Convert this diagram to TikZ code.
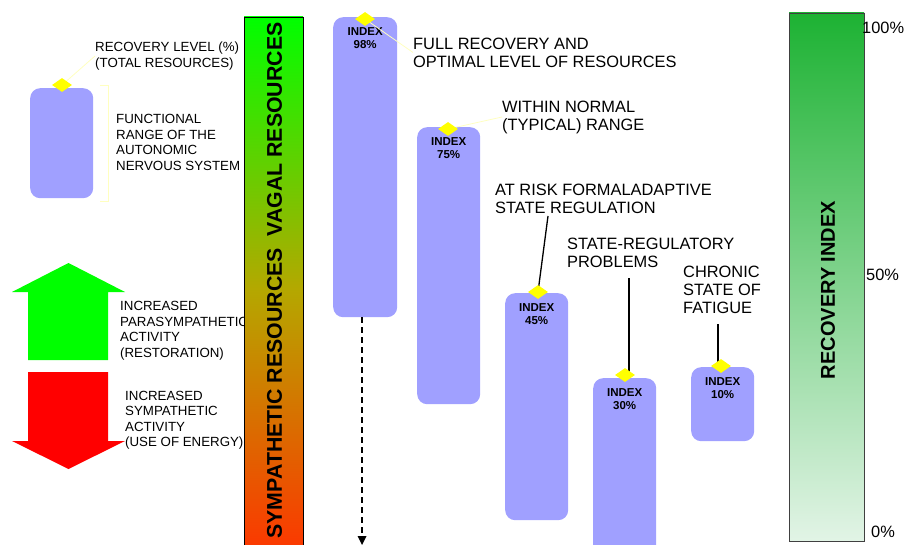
\documentclass[tikz,border=0pt]{standalone}
\usepackage{fontspec}
\setmainfont{Liberation Sans}
\usetikzlibrary{shapes.geometric,arrows.meta}
\definecolor{boxblue}{HTML}{A0A0FF}
\definecolor{dyellow}{HTML}{FFFF00}
\definecolor{faintyel}{HTML}{FFFFC0}
\definecolor{upgreen}{HTML}{00FF00}
\definecolor{downred}{HTML}{FF0000}
\definecolor{bartop}{HTML}{00FF00}
\definecolor{barmid}{HTML}{B4A800}
\definecolor{barbot}{HTML}{FF3300}
\definecolor{ritop}{HTML}{1DB233}
\definecolor{ribot}{HTML}{E2F4E6}
\begin{document}
\begin{tikzpicture}[x=1pt,y=-1pt,
  idxbox/.style={fill=boxblue, draw=none, rounded corners=10pt, inner sep=0pt, anchor=north west},
  idxtxt/.style={font=\bfseries\fontsize{11.5}{13}\selectfont, align=center, inner sep=0pt, anchor=north},
  marker/.style={diamond, fill=dyellow, draw=none, inner sep=0pt, minimum width=20pt, minimum height=14pt},
  label/.style={font=\fontsize{16.4}{18}\selectfont, align=left, inner sep=0pt, anchor=west},
  legtxt/.style={font=\fontsize{13.3}{15.5}\selectfont, align=left, inner sep=0pt, anchor=west},
  faintline/.style={draw=faintyel, line width=0.8pt},
  blackline/.style={draw=black, line width=1.3pt},
  scaletxt/.style={font=\fontsize{16.4}{18}\selectfont, inner sep=0pt, anchor=west},
]
\useasboundingbox (0,0) rectangle (909,545);
\clip (0,0) rectangle (909,545);

% ---------- legend (left) ----------
\node[legtxt] (rl) at (95,56) {RECOVERY LEVEL (\%)\\(TOTAL RESOURCES)};
\node[legtxt] (fr) at (116,142.5) {FUNCTIONAL\\RANGE OF THE\\AUTONOMIC\\NERVOUS SYSTEM};
\node[idxbox, minimum width=63pt, minimum height=110pt] (lb) at (30,88) {};
\coordinate (ldc) at (62,85);
\draw[faintline] (ldc) -- (rl.west);
\coordinate (brt) at (100,85);
\coordinate (brb) at (100,201);
\draw[faintline] (brt) -- ++(8,0) -- ++(0,116) -- (brb);
\node[marker] (ld) at (ldc) {};

\fill[upgreen] (12,292) -- (68.5,263) -- (125,292) -- (108,292) -- (108,360) -- (28,360) -- (28,292) -- cycle;
\fill[downred] (28,372) -- (108,372) -- (108,441) -- (125,441) -- (68.5,469) -- (12,441) -- (28,441) -- cycle;
\node[legtxt] (pa) at (120,330.5) {INCREASED\\PARASYMPATHETIC\\ACTIVITY\\(RESTORATION)};
\node[legtxt] (sa) at (125,420) {INCREASED\\SYMPATHETIC\\ACTIVITY\\(USE OF ENERGY)};

% ---------- left gradient bar ----------
\fill[top color=bartop, bottom color=barbot, middle color=barmid] (244,17) rectangle (303,560);
\draw[black, line width=0.9pt] (244,560) -- (244,17) -- (303,17) -- (303,560);
\node[rotate=90, font=\bfseries\fontsize{21.3}{21}\selectfont, inner sep=0pt] (vb) at (274.5,280.5) {SYMPATHETIC RESOURCES\ \ VAGAL RESOURCES};

% ---------- index boxes ----------
\node[idxbox, minimum width=64pt, minimum height=300pt] (b1) at (333,17) {};
\node[idxbox, minimum width=63pt, minimum height=277pt] (b2) at (417,127) {};
\node[idxbox, minimum width=63pt, minimum height=227pt] (b3) at (505,293) {};
\node[idxbox, minimum width=63pt, minimum height=190pt] (b4) at (593,378) {};
\node[idxbox, minimum width=63pt, minimum height=74pt] (b5) at (691,367) {};

\node[idxtxt] (t1) at ([yshift=-10pt]b1.north) {INDEX\\98\%};
\node[idxtxt] (t2) at ([yshift=-10pt]b2.north) {INDEX\\75\%};
\node[idxtxt] (t3) at ([yshift=-10pt]b3.north) {INDEX\\45\%};
\node[idxtxt] (t4) at ([yshift=-10pt]b4.north) {INDEX\\30\%};
\node[idxtxt] (t5) at ([yshift=-10pt]b5.north) {INDEX\\10\%};

% ---------- labels ----------
\node[label] (l1) at (413,52.5) {FULL RECOVERY AND\\OPTIMAL LEVEL OF RESOURCES};
\node[label] (l2) at (502,117) {WITHIN NORMAL\\(TYPICAL) RANGE};
\node[label] (l3) at (495,198.5) {AT RISK FORMALADAPTIVE\\STATE REGULATION};
\node[label] (l4) at (567,252.5) {STATE-REGULATORY\\PROBLEMS};
\node[label] (l5) at (683,289.5) {CHRONIC\\STATE OF\\FATIGUE};

% markers positions
\coordinate (m1) at (365,19);
\coordinate (m2) at (448,129);
\coordinate (m3) at (538,292);
\coordinate (m4) at (625,375);
\coordinate (m5) at (721,366);

\coordinate (c3) at (548,216);
\coordinate (c4) at (629,278);
\coordinate (c4e) at (629,373);
\coordinate (c5) at (718,324);
\coordinate (c5e) at (718,365);

\draw[faintline] (m1) -- (l1.west);
\draw[faintline] (m2) -- (l2.west);
\draw[blackline] (c3) -- (m3);
\draw[blackline] (c4) -- (c4e);
\draw[blackline] (c5) -- (c5e);

\node[marker] (d1) at (m1) {};
\node[marker] (d2) at (m2) {};
\node[marker] (d3) at (m3) {};
\node[marker] (d4) at (m4) {};
\node[marker] (d5) at (m5) {};

% dashed arrow
\coordinate (ae) at (362,545);
\draw[line width=1.2pt, dash pattern=on 6pt off 4pt] (b1.south -| ae) -- ([yshift=8pt]ae);
\fill[black] (ae) -- ++(-4.5,-9) -- ++(9,0) -- cycle;

% ---------- right scale bar ----------
\draw[draw=black!75, line width=0.9pt, top color=ritop, bottom color=ribot] (789,13) rectangle (864,541);
\node[rotate=90, font=\bfseries\fontsize{20}{20}\selectfont, inner sep=0pt] (ri) at (828,290) {RECOVERY INDEX};
\node[scaletxt] (p100) at (862,28) {100\%};
\node[scaletxt] (p50) at (866,275) {50\%};
\node[scaletxt] (p0) at (871,532) {0\%};
\end{tikzpicture}
\end{document}
